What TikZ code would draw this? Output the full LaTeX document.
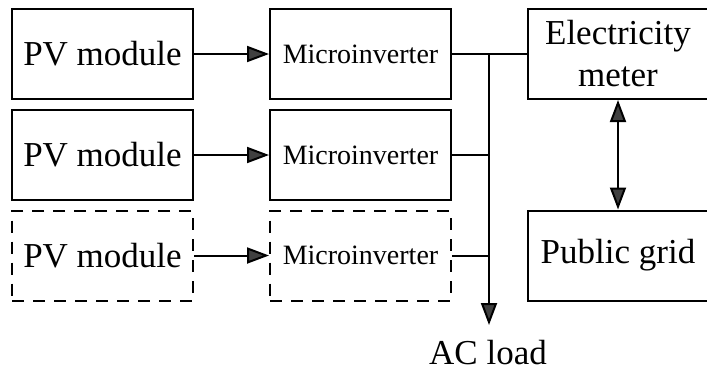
\documentclass[tikz,border=0pt]{standalone}
\usepackage{fontspec}
\setmainfont{Liberation Serif}
\usetikzlibrary{arrows.meta,positioning}

\begin{document}
\begin{tikzpicture}[x=0.5pt,y=-0.5pt,line width=1pt,
		box/.style={draw,minimum width=90.5pt,minimum height=45pt,inner sep=0pt,font=\fontsize{17.5}{21}\selectfont},
		inv/.style={box,font=\fontsize{14}{17}\selectfont},
		dbox/.style={dash pattern=on 6pt off 4.5pt},
		tip/.style={-{Triangle[length=11pt,width=8pt,fill=black!75]}},
		tips/.style={{Triangle[length=11pt,width=8pt,fill=black!75]}-{Triangle[length=11pt,width=8pt,fill=black!75]}}]
		\useasboundingbox (0,0) rectangle (707,370);
		\node[box](pv1) at (102.5,54){PV module};
		\node[box](pv2) at (102.5,155){PV module};
		\node[box,dbox](pv3) at (102.5,255.5){PV module};
		\node[inv](mi1) at (360.5,54){Microinverter};
		\node[inv](mi2) at (360.5,155){Microinverter};
		\node[inv,dbox](mi3) at (360.5,255.5){Microinverter};
		\node[box,align=center](meter) at (618,54){Electricity\\meter};
		\node[box](grid) at (618,255.5){Public grid};
		\coordinate (bus1) at (489,54);
		\coordinate (load) at (489,325);
		\node[font=\fontsize{17.5}{21}\selectfont,inner sep=0pt,anchor=base](ac) at (488,364){AC load};
		\draw[tip] (pv1) -- (mi1);
		\draw[tip] (pv2) -- (mi2);
		\draw[tip] (pv3) -- (mi3);
		\draw (mi1) -- (meter);
		\draw (mi2.east) -- (mi2.east -| bus1);
		\draw (mi3.east) -- (mi3.east -| bus1);
		\draw[tip] (bus1) -- (load);
		\draw[tips] (meter) -- (grid);
\end{tikzpicture}
\end{document}
